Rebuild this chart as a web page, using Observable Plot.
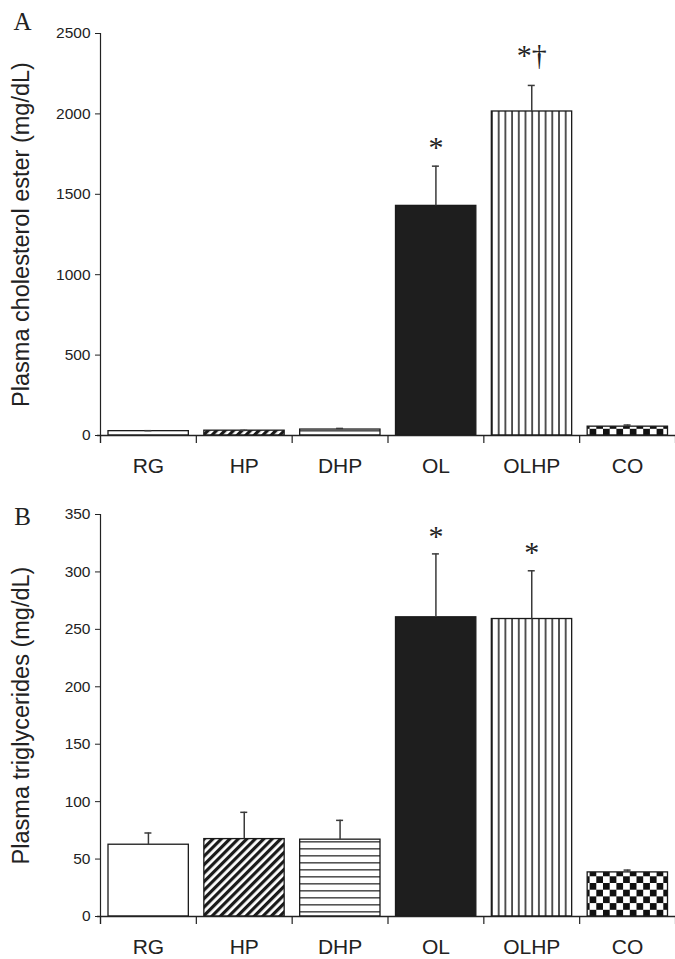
<!DOCTYPE html>
<html><head><meta charset="utf-8">
<script src="https://cdn.jsdelivr.net/npm/d3@7"></script>
<script src="https://cdn.jsdelivr.net/npm/@observablehq/plot@0.6"></script>
<style>
body{margin:0;background:#fff;}
#chart svg{display:block}
</style>
</head><body>
<svg width="0" height="0" style="position:absolute">
<defs>
<pattern id="pHP" patternUnits="userSpaceOnUse" width="6" height="6" patternTransform="rotate(45)"><rect width="6" height="6" fill="#fff"/><rect width="3.2" height="6" fill="#1a1a1a"/></pattern>
<pattern id="pDHP" patternUnits="userSpaceOnUse" width="8" height="7"><rect width="8" height="7" fill="#fff"/><rect y="3" width="8" height="1.6" fill="#555"/></pattern>
<pattern id="pOLHP" patternUnits="userSpaceOnUse" width="6.7" height="8"><rect width="6.7" height="8" fill="#fff"/><rect x="2" width="1.8" height="8" fill="#444"/></pattern>
<pattern id="pCO" patternUnits="userSpaceOnUse" width="13.4" height="13.4"><rect width="13.4" height="13.4" fill="#fff"/><rect width="6.7" height="6.7" fill="#111"/><rect x="6.7" y="6.7" width="6.7" height="6.7" fill="#111"/></pattern>
</defs></svg>
<div id="chart"></div>
<script>
const categories = ["RG", "HP", "DHP", "OL", "OLHP", "CO"];
const cholMean = [27, 30, 37, 1428, 2015, 55];
const cholErr = [3, 2, 7, 247, 162, 10];
const cholSig = ["", "", "", "*", "*†", ""];
const cholTicks = [0, 500, 1000, 1500, 2000, 2500];
const trigMean = [62.5, 67.4, 66.9, 260.5, 259, 38.4];
const trigErr = [10.2, 23.3, 16.8, 55.2, 42, 2];
const trigSig = ["", "", "", "*", "*", ""];
const trigTicks = [0, 50, 100, 150, 200, 250, 300, 350];

const fillFor = {RG: "#ffffff", HP: "url(#pHP)", DHP: "url(#pDHP)", OL: "#1e1e1e", OLHP: "url(#pOLHP)", CO: "url(#pCO)"};
const SANS = "Liberation Sans, Arial, Helvetica, sans-serif";
const SERIF = "Liberation Serif, Times New Roman, serif";

function panel({values, errors, sig, ticks, label, letter, letterDy, height, marginBottom, sigDy1, sigDy2}) {
  const data = categories.map((c, i) => ({c, i, v: values[i], e: errors[i], s: sig[i]}));
  const top = ticks[ticks.length - 1];
  return Plot.plot({
    width: 675, height, marginLeft: 100, marginRight: 0, marginTop: 33, marginBottom,
    x: {type: "linear", domain: [0, categories.length], axis: null},
    y: {domain: [0, top], axis: null},
    color: {type: "identity"},
    style: {fontFamily: SANS, color: "#222", background: "#fff", overflow: "visible"},
    marks: [
      Plot.rectY(data, {x1: "i", x2: d => d.i + 1, y1: 0, y2: "v", insetLeft: 8, insetRight: 7.5,
        fill: d => fillFor[d.c], stroke: "#1a1a1a", strokeWidth: 1.3}),
      Plot.ruleX(data, {x: d => d.i + 0.5, y1: "v", y2: d => d.v + d.e, stroke: "#3a3a3a", strokeWidth: 1.5}),
      Plot.ruleY(data, {y: d => d.v + d.e, x1: d => d.i + 0.5, x2: d => d.i + 0.5, insetLeft: -3.5, insetRight: -3.5, stroke: "#3a3a3a", strokeWidth: 1.5}),
      Plot.ruleY([0], {stroke: "#222", strokeWidth: 1.3, insetLeft: -3}),
      Plot.ruleX([0], {y1: top, y2: 0, insetBottom: -8, stroke: "#222", strokeWidth: 1.2}),
      Plot.ruleX(d3.range(categories.length + 1), {y1: 0, y2: 0, insetBottom: -8, stroke: "#222", strokeWidth: 1.2}),
      Plot.axisY(ticks, {tickSize: 5, tickPadding: 5, fontSize: 15.5, label: null, stroke: "#222", tickFormat: d3.format("d")}),
      Plot.text(data, {x: d => d.i + 0.5, y: 0, text: "c", dy: 31, fontSize: 21, fill: "#222"}),
      Plot.text([label], {frameAnchor: "left", textAnchor: "middle", lineAnchor: "middle", rotate: -90, dx: -79, fontSize: 23.5, fill: "#222"}),
      Plot.text([letter], {frameAnchor: "top-left", textAnchor: "middle", lineAnchor: "middle", dx: -78, dy: letterDy, fontSize: 25, fontFamily: SERIF, fill: "#222"}),
      Plot.text(data.filter(d => d.s === "*"), {x: d => d.i + 0.5, y: d => d.v + d.e, text: "s", dy: sigDy1, fontSize: 30, fontFamily: SERIF, fill: "#222"}),
      Plot.text(data.filter(d => d.s.length > 1), {x: d => d.i + 0.5, y: d => d.v + d.e, text: "s", dy: sigDy2, fontSize: 30, fontFamily: SERIF, fill: "#222"})
    ]
  });
}

const chart = document.getElementById("chart");
chart.append(panel({values: cholMean, errors: cholErr, sig: cholSig, ticks: cholTicks,
  label: "Plasma cholesterol ester (mg/dL)", letter: "A", letterDy: -12, height: 481, marginBottom: 46, sigDy1: -19, sigDy2: -30}));
chart.append(panel({values: trigMean, errors: trigErr, sig: trigSig, ticks: trigTicks,
  label: "Plasma triglycerides (mg/dL)", letter: "B", letterDy: 2, height: 478, marginBottom: 43, sigDy1: -18, sigDy2: -30}));
</script>
</body></html>
